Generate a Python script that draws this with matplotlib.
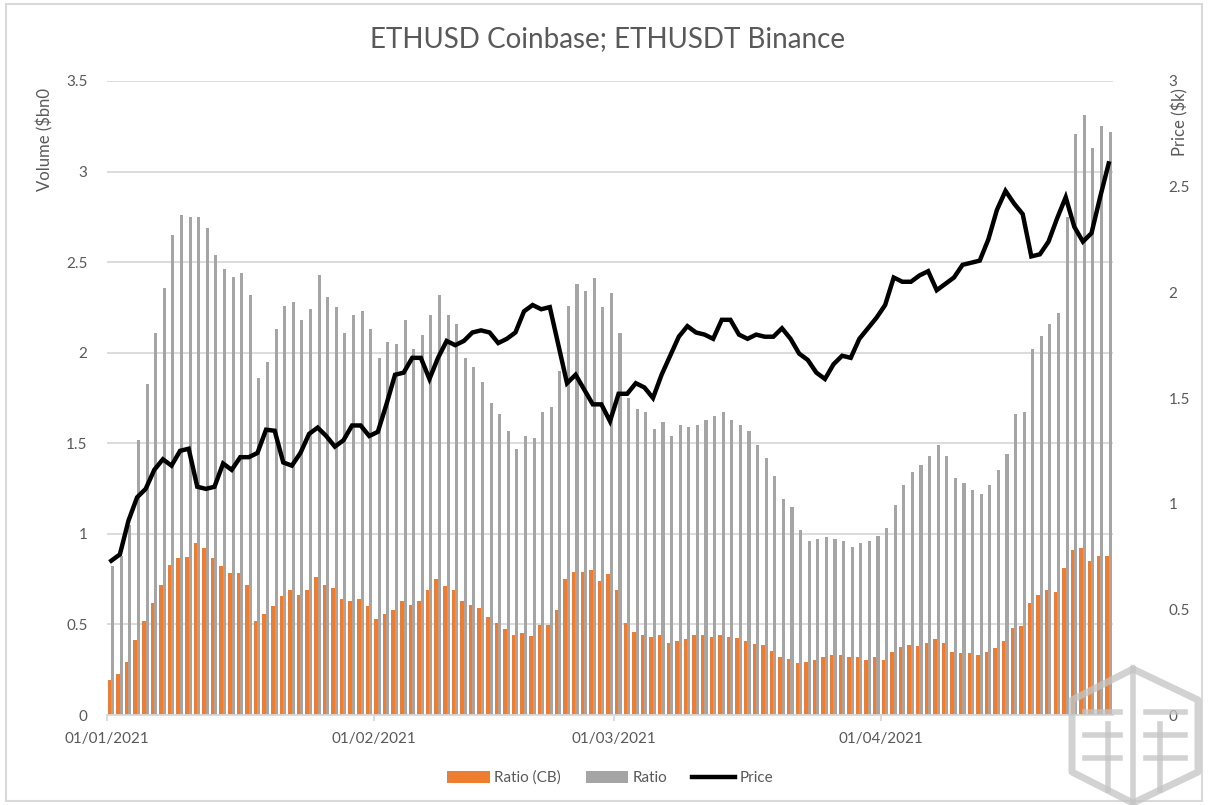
import matplotlib
matplotlib.use("Agg")
import matplotlib.pyplot as plt
from matplotlib.patches import Patch, Rectangle
from matplotlib.lines import Line2D
import pandas as pd

plt.rcParams["font.family"] = ["Lato", "DejaVu Sans"]

# daily data, 01/01/2021 .. 27/04/2021
dates = pd.date_range("2021-01-01", periods=117, freq="D")

ratio = [
    0.82, 0.88, 1.05, 1.52, 1.83, 2.11, 2.36, 2.65, 2.76, 2.75,
    2.75, 2.69, 2.54, 2.46, 2.42, 2.44, 2.32, 1.86, 1.95, 2.13,
    2.26, 2.28, 2.18, 2.24, 2.43, 2.31, 2.25, 2.11, 2.21, 2.23,
    2.13, 1.97, 2.06, 2.05, 2.18, 2.02, 2.10, 2.21, 2.32, 2.21,
    2.16, 1.97, 1.92, 1.84, 1.72, 1.66, 1.57, 1.47, 1.54, 1.53,
    1.67, 1.70, 1.90, 2.26, 2.38, 2.34, 2.41, 2.25, 2.33, 2.11,
    1.75, 1.69, 1.67, 1.58, 1.62, 1.54, 1.60, 1.59, 1.60, 1.63,
    1.65, 1.67, 1.63, 1.60, 1.57, 1.49, 1.42, 1.32, 1.19, 1.15,
    1.02, 0.96, 0.97, 0.98, 0.97, 0.96, 0.93, 0.95, 0.96, 0.99,
    1.03, 1.16, 1.27, 1.34, 1.38, 1.43, 1.49, 1.43, 1.31, 1.28,
    1.24, 1.22, 1.27, 1.35, 1.44, 1.66, 1.67, 2.02, 2.09, 2.16,
    2.22, 2.75, 3.21, 3.31, 3.13, 3.25, 3.22,
]

ratio_cb = [
    0.195, 0.225, 0.295, 0.415, 0.52, 0.62, 0.72, 0.83, 0.865, 0.87,
    0.95, 0.92, 0.865, 0.82, 0.785, 0.785, 0.715, 0.52, 0.56, 0.60,
    0.655, 0.69, 0.66, 0.69, 0.76, 0.72, 0.70, 0.64, 0.63, 0.64,
    0.60, 0.53, 0.56, 0.58, 0.63, 0.61, 0.63, 0.69, 0.75, 0.71,
    0.69, 0.63, 0.61, 0.59, 0.54, 0.51, 0.475, 0.44, 0.45, 0.435,
    0.495, 0.495, 0.58, 0.75, 0.79, 0.79, 0.80, 0.74, 0.78, 0.69,
    0.51, 0.46, 0.44, 0.43, 0.44, 0.40, 0.41, 0.42, 0.44, 0.44,
    0.43, 0.44, 0.43, 0.425, 0.41, 0.39, 0.385, 0.355, 0.32, 0.31,
    0.285, 0.29, 0.305, 0.32, 0.33, 0.33, 0.32, 0.32, 0.305, 0.32,
    0.305, 0.35, 0.375, 0.385, 0.38, 0.40, 0.42, 0.40, 0.35, 0.34,
    0.34, 0.33, 0.35, 0.37, 0.41, 0.48, 0.49, 0.62, 0.66, 0.69,
    0.68, 0.81, 0.91, 0.92, 0.85, 0.88, 0.88,
]

price = [
    0.73, 0.76, 0.92, 1.03, 1.07, 1.16, 1.21, 1.18, 1.25, 1.26,
    1.08, 1.07, 1.08, 1.19, 1.16, 1.22, 1.22, 1.24, 1.35, 1.345,
    1.195, 1.18, 1.24, 1.33, 1.36, 1.32, 1.27, 1.30, 1.37, 1.37,
    1.32, 1.34, 1.47, 1.61, 1.62, 1.69, 1.69, 1.59, 1.69, 1.77,
    1.75, 1.77, 1.81, 1.82, 1.81, 1.76, 1.78, 1.81, 1.91, 1.94,
    1.92, 1.93, 1.75, 1.57, 1.61, 1.54, 1.47, 1.47, 1.39, 1.52,
    1.52, 1.57, 1.55, 1.50, 1.61, 1.70, 1.79, 1.84, 1.81, 1.80,
    1.78, 1.87, 1.87, 1.80, 1.78, 1.80, 1.79, 1.79, 1.83, 1.78,
    1.71, 1.68, 1.62, 1.59, 1.66, 1.70, 1.69, 1.78, 1.83, 1.88,
    1.94, 2.07, 2.05, 2.05, 2.08, 2.10, 2.01, 2.04, 2.07, 2.13,
    2.14, 2.15, 2.25, 2.39, 2.48, 2.42, 2.37, 2.17, 2.18, 2.24,
    2.35, 2.45, 2.31, 2.24, 2.28, 2.45, 2.61,
]

tick_dates = pd.to_datetime(["2021-01-01", "2021-02-01", "2021-03-01", "2021-04-01"])

ORANGE = "#ED7D31"
GREY = "#A5A5A5"
TXT = "#595959"
GRID = "#D9D9D9"

fig = plt.figure(figsize=(12.08, 8.05), dpi=100)
ax = fig.add_axes([107 / 1208, 90 / 805, 1006 / 1208, 634 / 805])
ax2 = ax.twinx()

half = pd.Timedelta(hours=12)
ax.bar(dates - pd.Timedelta(hours=5), ratio_cb, width=0.42, color=ORANGE, zorder=2)
ax.bar(dates + pd.Timedelta(hours=4), ratio, width=0.36, color=GREY, zorder=2)
ax2.plot(dates, price, color="black", lw=3.2, solid_joinstyle="miter", zorder=3)

ax.set_ylim(0, 3.5)
ax.set_yticks([0, 0.5, 1, 1.5, 2, 2.5, 3, 3.5])
ax.set_yticklabels(["0", "0.5", "1", "1.5", "2", "2.5", "3", "3.5"])
ax2.set_ylim(0, 3)
ax2.set_yticks([0, 0.5, 1, 1.5, 2, 2.5, 3])
ax2.set_yticklabels(["0", "0.5", "1", "1.5", "2", "2.5", "3"])
ax.set_xlim(dates[0] - half, dates[-1] + half)

ax.set_xticks(tick_dates - half)
ax.set_xticklabels([d.strftime("%d/%m/%Y") for d in tick_dates])

ax.yaxis.grid(True, color=GRID, lw=1.3, zorder=0)
ax.set_axisbelow(True)
for a in (ax, ax2):
    for s in a.spines.values():
        s.set_visible(False)
ax.spines["bottom"].set_visible(True)
ax.spines["bottom"].set_color(GRID)
ax.spines["bottom"].set_linewidth(1.3)

ax.tick_params(axis="y", length=0, pad=14, labelsize=11, labelcolor=TXT)
ax.tick_params(axis="x", length=4, color=GRID, width=1.3, pad=8, labelsize=11, labelcolor=TXT)
ax2.tick_params(axis="y", length=0, pad=40, labelsize=11, labelcolor=TXT)

fig.text(0.503, 0.952, "ETHUSD Coinbase; ETHUSDT Binance", ha="center", va="center",
         fontsize=20, color=TXT)
fig.text(45 / 1208, 1 - 88 / 805, "Volume ($bn0", rotation=90, ha="center", va="top",
         fontsize=12, color=TXT)
fig.text(1180 / 1208, 1 - 88 / 805, "Price ($k)", rotation=90, ha="center", va="top",
         fontsize=12, color=TXT)

handles = [
    Patch(facecolor=ORANGE, edgecolor="none", label="Ratio (CB)"),
    Patch(facecolor=GREY, edgecolor="none", label="Ratio"),
    Line2D([0], [0], color="black", lw=3.2, label="Price"),
]
leg = fig.legend(handles=handles, loc="center", bbox_to_anchor=(0.505, 1 - 778 / 805), ncol=3,
                 frameon=False, fontsize=11, handlelength=2.8, handleheight=0.8,
                 columnspacing=1.6, handletextpad=0.3)
for t in leg.get_texts():
    t.set_color(TXT)

# chart frame
fig.patches.append(Rectangle((6 / 1208, 4 / 805), 1196 / 1208, 797 / 805, transform=fig.transFigure,
                             fill=False, edgecolor=GRID, lw=1.5))

# watermark logo (rough hexagon maze)
def px(x, y):
    return x / 1208, 1 - y / 805

hexagon = [(1133, 669), (1072, 700), (1072, 772), (1133, 803), (1198, 772), (1198, 700), (1133, 669)]
xs, ys = zip(*[px(x, y) for x, y in hexagon])
fig.add_artist(Line2D(xs, ys, transform=fig.transFigure, color="#C4C4C4", lw=5, alpha=0.75))
maze = [
    [(1133, 669), (1133, 803)],
    [(1085, 712), (1120, 712)],
    [(1085, 735), (1120, 735)],
    [(1085, 758), (1120, 758)],
    [(1146, 712), (1185, 712)],
    [(1146, 735), (1185, 735)],
    [(1146, 758), (1185, 758)],
    [(1108, 724), (1108, 790)],
    [(1160, 724), (1160, 790)],
]
for seg in maze:
    xs, ys = zip(*[px(x, y) for x, y in seg])
    fig.add_artist(Line2D(xs, ys, transform=fig.transFigure, color="#C4C4C4", lw=4, alpha=0.75))

fig.savefig("out.png", dpi=100)
